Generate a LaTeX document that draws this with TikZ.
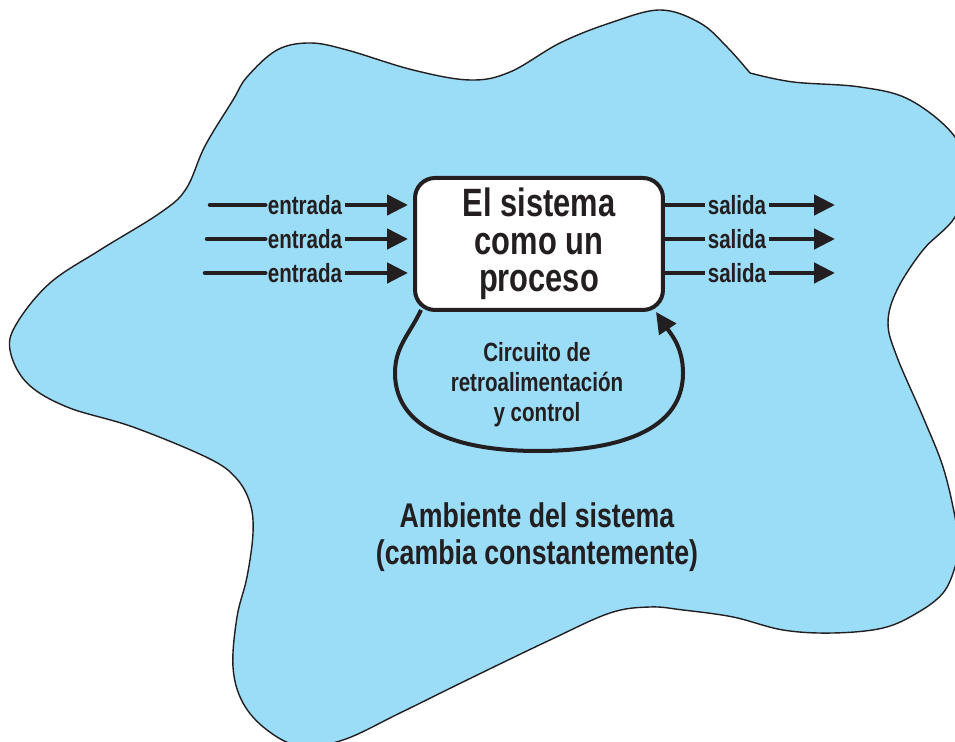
\documentclass[tikz,border=0pt]{standalone}
\usepackage{fontspec}
\setmainfont{Liberation Sans}[FakeStretch=0.78]
\usetikzlibrary{arrows.meta}
\definecolor{ambiente}{RGB}{155,220,247}
\definecolor{tinta}{RGB}{35,31,32}

\begin{document}
\begin{tikzpicture}[
    x=0.02cm, y=0.02cm,
    sysbox/.style={rectangle, draw=tinta, fill=white, line width=0.08cm, rounded corners=0.4cm, minimum width=4.96cm, minimum height=2.64cm, align=center, text=tinta, font=\bfseries\fontsize{22.5}{21.5}\selectfont},
    flowlabel/.style={text=tinta, inner sep=1.5pt, outer sep=0pt, font=\bfseries\fontsize{15}{17}\selectfont},
    flowline/.style={draw=tinta, line width=0.09cm},
    flowarrow/.style={flowline, -{Triangle[length=0.42cm,width=0.4cm]}},
]
\clip (0,0) rectangle (955,742);
\filldraw[fill=ambiente, draw=tinta, line width=0.8pt] plot[smooth, tension=0.6] coordinates {
    (750,669) (793,660) (860,655) (910,642) (955,605) (965,565) (955,525)
    (923,492) (897,452) (888,419) (897,385) (923,325) (943,275) (955,225)
    (958,197) (955,175) (943,149) (917,129) (883,114) (833,109) (783,112)
    (733,125) (683,132) (650,135) (610,129) (550,102) (467,62) (400,29)
    (343,2) (300,-4) (267,12) (243,39) (233,75) (237,125) (247,165)
    (253,209) (250,239) (236,264) (208,284) (133,315) (67,335)
    (27,359) (10,392) (17,419) (50,459) (100,492) (160,529) (186,553)
    (205,596) (233,642) (247,665) (277,692) (310,699) (347,692) (413,672)
    (470,662) (510,670) (560,699) (610,719) (660,732) (700,719) (727,695)
    (750,669)} -- cycle;

\node[sysbox] (sys) at (539,498) {El sistema\\como un\\proceso};

\coordinate (in1) at (210,537);
\coordinate (in2) at (207,503);
\coordinate (in3) at (205,469);
\node[flowlabel] (ent1) at (305,537) {entrada};
\node[flowlabel] (ent2) at (305,503) {entrada};
\node[flowlabel] (ent3) at (305,469) {entrada};
\draw[flowline, line cap=round] (in1) -- (ent1);
\draw[flowline, line cap=round] (in2) -- (ent2);
\draw[flowline, line cap=round] (in3) -- (ent3);
\draw[flowarrow, shorten >=0.1cm] (ent1) -- (sys.west |- ent1);
\draw[flowarrow, shorten >=0.1cm] (ent2) -- (sys.west |- ent2);
\draw[flowarrow, shorten >=0.1cm] (ent3) -- (sys.west |- ent3);

\node[flowlabel] (sal1) at (737,537) {salida};
\node[flowlabel] (sal2) at (737,503) {salida};
\node[flowlabel] (sal3) at (737,469) {salida};
\coordinate (out1) at (835,537);
\coordinate (out2) at (835,503);
\coordinate (out3) at (835,469);
\draw[flowline] (sys.east |- sal1) -- (sal1);
\draw[flowline] (sys.east |- sal2) -- (sal2);
\draw[flowline] (sys.east |- sal3) -- (sal3);
\draw[flowarrow] (sal1) -- (out1);
\draw[flowarrow] (sal2) -- (out2);
\draw[flowarrow] (sal3) -- (out3);

\coordinate (fbs) at (421,432);
\coordinate (fbt) at (656,430);
\node[flowlabel, align=center] (fbtext) at (537,357) {Circuito de\\retroalimentación\\y control};
\draw[flowarrow, line width=0.08cm] (fbs) to[out=245,in=90] (395,369) to[out=270,in=180] (537,291) to[out=0,in=270] (683,369) to[out=90,in=-56] (fbt);

\node[text=tinta, align=center, font=\bfseries\fontsize{19.5}{21}\selectfont] (amb) at (537,205) {Ambiente del sistema\\(cambia constantemente)};
\end{tikzpicture}
\end{document}
